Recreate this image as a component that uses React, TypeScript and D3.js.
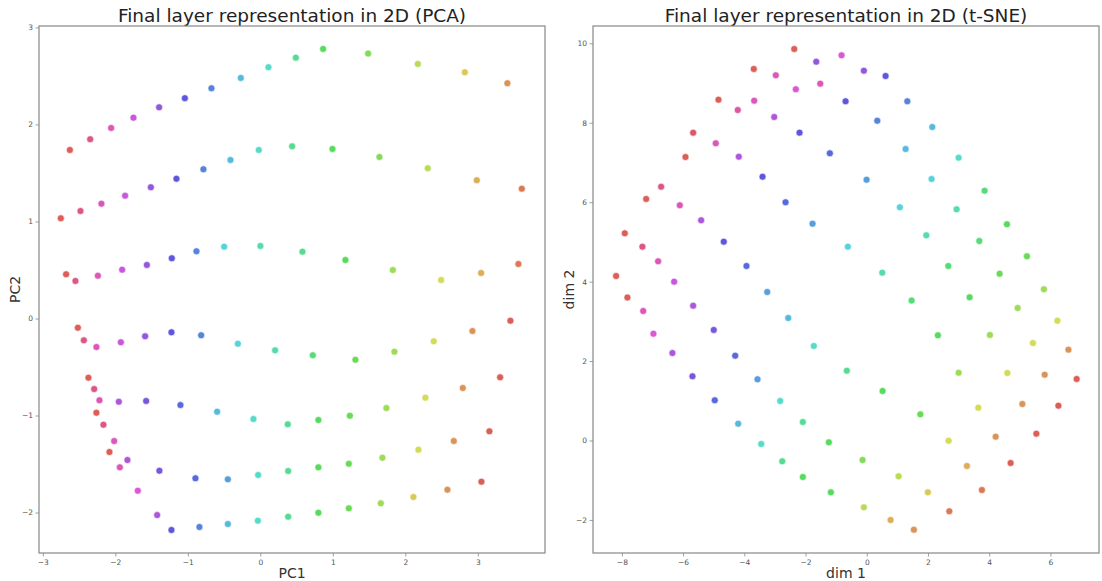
import React from 'react';
import * as d3 from 'd3';

// [x, y, class] — class indexes an hls palette of 30 hues
const pcaPoints: [number, number, number][] = [
  [-2.634, 1.742, 0], [-2.354, 1.853, 28], [-2.065, 1.969, 26], [-1.757, 2.075, 24], [-1.403, 2.182, 22],
  [-1.048, 2.276, 20], [-0.681, 2.378, 18], [-0.276, 2.485, 16], [0.105, 2.595, 14], [0.483, 2.694, 12],
  [0.859, 2.784, 10], [1.48, 2.736, 8], [2.166, 2.629, 6], [2.814, 2.543, 4], [3.401, 2.43, 2],

  [-2.759, 1.038, 0], [-2.488, 1.113, 28], [-2.199, 1.189, 26], [-1.872, 1.271, 24], [-1.517, 1.358, 22],
  [-1.164, 1.446, 20], [-0.792, 1.543, 18], [-0.419, 1.639, 16], [-0.028, 1.742, 14], [0.432, 1.78, 12],
  [0.988, 1.753, 10], [1.636, 1.67, 8], [2.303, 1.554, 6], [2.979, 1.43, 3], [3.6, 1.343, 1],

  [-2.686, 0.461, 0], [-2.557, 0.392, 28], [-2.248, 0.446, 26], [-1.913, 0.508, 24], [-1.572, 0.557, 22],
  [-1.228, 0.626, 20], [-0.888, 0.698, 18], [-0.506, 0.745, 15], [-0.006, 0.753, 13], [0.574, 0.694, 12],
  [1.167, 0.608, 10], [1.821, 0.505, 7], [2.487, 0.402, 5], [3.039, 0.474, 3], [3.553, 0.567, 1],

  [-2.524, -0.09, 0], [-2.441, -0.22, 28], [-2.268, -0.289, 26], [-1.931, -0.24, 24], [-1.596, -0.178, 22],
  [-1.233, -0.137, 20], [-0.823, -0.168, 18], [-0.317, -0.255, 15], [0.197, -0.323, 13], [0.717, -0.374, 11],
  [1.305, -0.42, 9], [1.843, -0.337, 7], [2.386, -0.23, 5], [2.919, -0.124, 2], [3.443, -0.018, 0],

  [-2.378, -0.605, 0], [-2.299, -0.722, 28], [-2.226, -0.838, 26], [-1.959, -0.853, 23], [-1.582, -0.845, 21],
  [-1.109, -0.887, 19], [-0.603, -0.956, 16], [-0.102, -1.031, 14], [0.372, -1.086, 12], [0.794, -1.041, 10],
  [1.228, -0.997, 9], [1.732, -0.918, 7], [2.27, -0.811, 5], [2.786, -0.711, 2], [3.301, -0.601, 0],

  [-2.268, -0.966, 0], [-2.171, -1.09, 28], [-2.023, -1.258, 26], [-1.84, -1.454, 23], [-1.399, -1.564, 21],
  [-0.902, -1.642, 19], [-0.455, -1.653, 17], [-0.037, -1.608, 14], [0.377, -1.567, 12], [0.794, -1.529, 10],
  [1.214, -1.492, 9], [1.677, -1.43, 7], [2.174, -1.347, 5], [2.662, -1.258, 2], [3.153, -1.158, 0],

  [-2.088, -1.371, 0], [-1.945, -1.529, 26], [-1.697, -1.77, 25], [-1.43, -2.021, 23], [-1.233, -2.175, 20],
  [-0.847, -2.144, 18], [-0.455, -2.113, 16], [-0.041, -2.079, 14], [0.377, -2.038, 12], [0.794, -1.997, 10],
  [1.214, -1.952, 9], [1.655, -1.9, 7], [2.105, -1.835, 4], [2.574, -1.76, 2], [3.043, -1.677, 0],
];

const tsnePoints: [number, number, number][] = [
  [-2.386, 9.869, 0], [-1.667, 9.549, 22], [-3.707, 9.366, 0], [-2.988, 9.207, 26], [-1.536, 8.996, 26],
  [-2.334, 8.855, 25], [-4.861, 8.593, 0], [-3.694, 8.567, 26], [-4.23, 8.333, 27], [-3.04, 8.157, 23],
  [-5.688, 7.762, 29], [-2.213, 7.762, 20], [-4.949, 7.495, 26], [-5.939, 7.15, 0], [-4.197, 7.158, 23],
  [-1.222, 7.243, 19], [-3.422, 6.654, 20], [-6.734, 6.402, 28], [-7.224, 6.093, 0], [-6.124, 5.934, 26],
  [-2.67, 6.01, 19], [-5.427, 5.556, 23], [-1.788, 5.471, 17], [-7.922, 5.229, 0], [-4.688, 5.018, 20],
  [-7.346, 4.892, 28], [-6.832, 4.524, 26], [-3.946, 4.406, 19], [-8.205, 4.154, 0], [-6.309, 4.011, 24],
  [-3.269, 3.751, 17], [-7.836, 3.613, 0],

  [-0.84, 9.711, 25], [-0.111, 9.323, 22], [0.598, 9.189, 20], [-0.709, 8.552, 20], [1.308, 8.552, 18],
  [0.327, 8.064, 18], [2.124, 7.905, 16], [1.252, 7.351, 16], [2.984, 7.133, 14], [-0.023, 6.578, 17],
  [2.101, 6.596, 15], [3.833, 6.302, 11], [1.065, 5.884, 15], [2.918, 5.833, 13], [4.562, 5.456, 10],
  [1.928, 5.179, 13], [3.66, 5.035, 11], [-0.634, 4.892, 15], [5.216, 4.65, 9], [2.647, 4.406, 11],
  [4.323, 4.212, 9], [0.49, 4.237, 13], [5.771, 3.819, 7], [3.343, 3.618, 10], [1.448, 3.537, 11],

  [-7.32, 3.273, 26], [-5.688, 3.406, 23], [-2.582, 3.097, 16], [-6.986, 2.701, 25], [-5.015, 2.795, 21],
  [-1.746, 2.392, 14], [-6.365, 2.215, 23], [-4.315, 2.148, 19], [-5.711, 1.629, 21], [-3.586, 1.553, 17],
  [-4.982, 1.025, 19], [-2.844, 1.007, 14], [-4.217, 0.436, 16], [-2.105, 0.478, 12], [-3.464, -0.076, 14],
  [-1.255, -0.033, 10], [-2.778, -0.511, 12], [-2.105, -0.906, 10], [-1.19, -1.292, 10],

  [4.912, 3.348, 7], [6.211, 3.029, 5], [2.307, 2.661, 10], [4.007, 2.669, 7], [5.412, 2.467, 5],
  [6.571, 2.299, 2], [-0.667, 1.77, 12], [2.984, 1.72, 7], [4.577, 1.712, 5], [5.796, 1.669, 2],
  [6.84, 1.561, 0], [0.5, 1.259, 10], [3.628, 0.838, 5], [5.066, 0.932, 2], [6.244, 0.889, 0],
  [1.733, 0.672, 9], [2.657, 0.008, 5], [4.194, 0.108, 2], [5.523, 0.184, 0], [-0.154, -0.478, 8],
  [1.023, -0.889, 6], [3.255, -0.629, 3], [4.683, -0.554, 0], [1.98, -1.292, 4], [3.745, -1.234, 1],
  [-0.111, -1.669, 6], [0.761, -1.989, 3], [2.68, -1.77, 1], [1.523, -2.233, 2],
];

const pcaXTicks = [-3, -2, -1, 0, 1, 2, 3];
const pcaYTicks = [-2, -1, 0, 1, 2, 3];
const tsneXTicks = [-8, -6, -4, -2, 0, 2, 4, 6];
const tsneYTicks = [-2, 0, 2, 4, 6, 8, 10];

const nClasses = 30;
const palette = d3.range(nClasses).map(i => d3.hsl((3.6 + i * 360 / nClasses) % 360, 0.65, 0.6).formatHex());
const color = d3.scaleOrdinal<number, string>().domain(d3.range(nClasses)).range(palette);

const font = '"DejaVu Sans", sans-serif';

type PanelProps = {
  left: number;
  points: [number, number, number][];
  xDomain: [number, number];
  yDomain: [number, number];
  xTicks: number[];
  yTicks: number[];
  title: string;
  xLabel: string;
  yLabel: string;
};

const Panel = ({ left, points, xDomain, yDomain, xTicks, yTicks, title, xLabel, yLabel }: PanelProps) => {
  const top = 26;
  const width = 506;
  const height = 527;

  const x = d3.scaleLinear().domain(xDomain).range([0, width]);
  const y = d3.scaleLinear().domain(yDomain).range([height, 0]);

  return (
    <g transform={`translate(${left}, ${top})`}>
      <text x={width / 2} y={-4} textAnchor="middle" fontFamily={font} fontSize={18.5} fill="#222">
        {title}
      </text>

      {points.map((d, i) => (
        <circle key={i} cx={x(d[0])} cy={y(d[1])} r={3.5} fill={color(d[2])} stroke="#fff" strokeWidth={0.6} />
      ))}

      <rect x={0} y={0} width={width} height={height} fill="none" stroke="#888" strokeWidth={1.2} />

      {xTicks.map(t => (
        <g key={t} transform={`translate(${x(t)}, ${height})`}>
          <line y1={0} y2={3.5} stroke="#888" strokeWidth={0.8} />
          <text y={12} textAnchor="middle" fontFamily={font} fontSize={7.5} fill="#555">
            {t < 0 ? `\u2212${-t}` : t}
          </text>
        </g>
      ))}

      {yTicks.map(t => (
        <g key={t} transform={`translate(0, ${y(t)})`}>
          <line x1={-3.5} x2={0} stroke="#888" strokeWidth={0.8} />
          <text x={-6} dy="0.32em" textAnchor="end" fontFamily={font} fontSize={7.5} fill="#555">
            {t < 0 ? `\u2212${-t}` : t}
          </text>
        </g>
      ))}

      <text x={width / 2} y={height + 25} textAnchor="middle" fontFamily={font} fontSize={14} fill="#333">
        {xLabel}
      </text>
      <text
        transform={`translate(${-19}, ${height / 2}) rotate(-90)`}
        textAnchor="middle"
        fontFamily={font}
        fontSize={14}
        fill="#333"
      >
        {yLabel}
      </text>
    </g>
  );
};

export default function App() {
  return (
    <svg
      width={1102}
      height={581}
      style={{ position: 'absolute', left: 0, top: 0, background: '#fff' }}
    >
      <Panel
        left={39}
        points={pcaPoints}
        xDomain={[-3.06, 3.92]}
        yDomain={[-2.412, 3.02]}
        xTicks={pcaXTicks}
        yTicks={pcaYTicks}
        title="Final layer representation in 2D (PCA)"
        xLabel="PC1"
        yLabel="PC2"
      />
      <Panel
        left={593}
        points={tsnePoints}
        xDomain={[-8.96, 7.57]}
        yDomain={[-2.82, 10.448]}
        xTicks={tsneXTicks}
        yTicks={tsneYTicks}
        title="Final layer representation in 2D (t-SNE)"
        xLabel="dim 1"
        yLabel="dim 2"
      />
    </svg>
  );
}
